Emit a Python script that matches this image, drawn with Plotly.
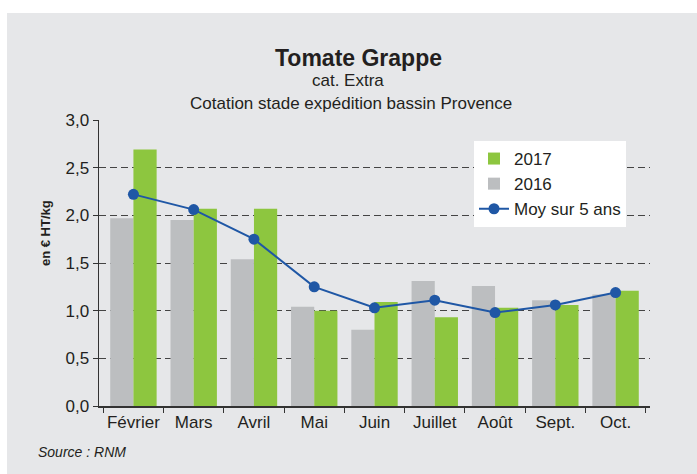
import plotly.graph_objects as go

months = ["Février", "Mars", "Avril", "Mai", "Juin", "Juillet", "Août", "Sept.", "Oct."]
val_2016 = [1.97, 1.95, 1.54, 1.04, 0.80, 1.31, 1.26, 1.11, 1.17]
val_2017 = [2.69, 2.07, 2.07, 1.00, 1.09, 0.93, 1.03, 1.06, 1.21]
moy_5ans = [2.22, 2.06, 1.75, 1.25, 1.03, 1.11, 0.98, 1.06, 1.19]

FONT = "Liberation Sans, Arial, sans-serif"
TXT = "#231f20"

fig = go.Figure()
fig.add_trace(go.Bar(x=months, y=val_2016, name="2016", marker_color="#bcbec0",
                     marker_line_width=0, legendrank=2))
fig.add_trace(go.Bar(x=months, y=val_2017, name="2017", marker_color="#8dc63f",
                     marker_line_width=0, legendrank=1))
fig.add_trace(go.Scatter(x=months, y=moy_5ans, name="Moy sur 5 ans", mode="lines+markers",
                         line=dict(color="#1f57a5", width=2),
                         marker=dict(color="#1f57a5", size=11), legendrank=3))

# plot area: x 99..650, y 120..406
L, R, T, B = 99, 47, 120, 68
W, H = 697, 474
pw, ph = W - L - R, H - T - B

def px(x):
    return (x - L) / pw

def py(y):
    return (H - B - y) / ph

fig.update_layout(
    width=W, height=H,
    margin=dict(l=L, r=R, t=T, b=B),
    paper_bgcolor="white",
    plot_bgcolor="rgba(0,0,0,0)",
    barmode="group",
    bargap=0.23,
    bargroupgap=0,
    separators=", ",
    font=dict(family=FONT, color=TXT, size=17),
    showlegend=True,
    hovermode=False,
    legend=dict(x=px(474), y=py(141), xanchor="left", yanchor="top",
                bgcolor="white", borderwidth=0, font=dict(size=17, color=TXT),
                tracegroupgap=0, itemwidth=30),
    shapes=[dict(type="rect", xref="paper", yref="paper",
                 x0=px(7), x1=px(710), y0=py(490), y1=py(13),
                 fillcolor="#e6e7e9", line_width=0, layer="below")],
    annotations=[
        dict(text="<b>Tomate Grappe</b>", x=px(358), y=py(58), xref="paper", yref="paper",
             showarrow=False, font=dict(size=23, color=TXT), xanchor="center", yanchor="middle"),
        dict(text="cat. Extra", x=px(348), y=py(81), xref="paper", yref="paper",
             showarrow=False, font=dict(size=17, color=TXT), xanchor="center", yanchor="middle"),
        dict(text="Cotation stade expédition bassin Provence", x=px(351), y=py(103),
             xref="paper", yref="paper",
             showarrow=False, font=dict(size=17, color=TXT), xanchor="center", yanchor="middle"),
        dict(text="<b>en € HT/kg</b>", x=px(45), y=py(233), xref="paper", yref="paper",
             showarrow=False, textangle=-90, font=dict(size=13, color=TXT),
             xanchor="center", yanchor="middle"),
        dict(text="<i>Source : RNM</i>", x=px(36), y=py(452), xref="paper", yref="paper",
             showarrow=False, font=dict(size=14, color=TXT), xanchor="left", yanchor="middle"),
    ],
)

fig.update_yaxes(range=[0, 3.0], dtick=0.5, tick0=0, tickformat=".1f",
                 showgrid=True, gridcolor="#444444", griddash="7px,4px", gridwidth=1,
                 showline=True, linecolor="#333333", linewidth=1.5,
                 ticks="outside", ticklen=5, tickcolor="#333333",
                 zeroline=False, tickfont=dict(size=17, color=TXT), fixedrange=True)
fig.update_xaxes(showline=True, linecolor="#333333", linewidth=1.5, tickangle=0,
                 ticks="outside", tickson="boundaries", ticklen=5, tickcolor="#333333",
                 showgrid=False, tickfont=dict(size=17, color=TXT), fixedrange=True)

fig.write_html("out.html", config={"displayModeBar": False, "staticPlot": True},
               post_script="document.body.style.margin='0';document.body.style.overflow='hidden';")
